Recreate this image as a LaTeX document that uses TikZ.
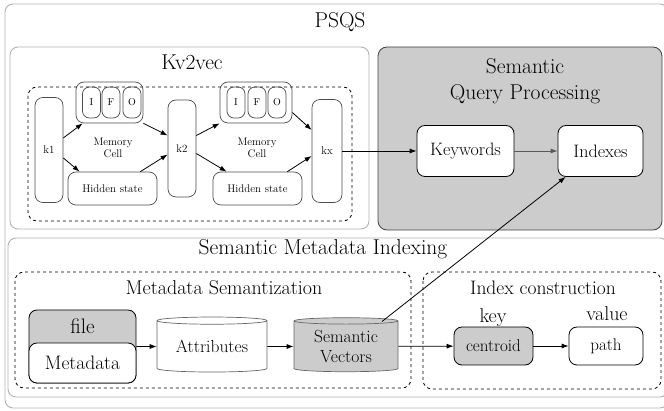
\documentclass[tikz,border=0pt]{standalone}
\usetikzlibrary{positioning,shapes.geometric,arrows.meta}

\tikzset{
	frame/.style={draw=gray!60, line width=0.9pt, rounded corners=8pt},
	dashframe/.style={draw, dashed, line width=0.8pt, rounded corners=9pt},
	cell/.style={draw=black!70, line width=0.7pt, rounded corners=8pt, inner sep=0pt, align=center, font=\fontsize{11}{12.5}\selectfont},
	gate/.style={draw=black!70, line width=0.7pt, rounded corners=7pt, inner sep=0pt, minimum width=18pt, minimum height=31pt, font=\fontsize{10}{11}\selectfont},
	box/.style={draw, line width=0.8pt, rounded corners=8pt, fill=white, inner sep=0pt, font=\fontsize{18}{20}\selectfont},
	db/.style={draw=black!60, line width=0.7pt, cylinder, shape border rotate=90, aspect=0.1, inner sep=0pt, align=center, font=\fontsize{17.5}{20}\selectfont},
	bigtitle/.style={font=\fontsize{21.5}{26}\selectfont, align=center},
	subtitle/.style={font=\fontsize{20}{22}\selectfont},
	arr/.style={line width=0.8pt, -{Latex[length=7pt,width=5pt]}},
}

\begin{document}
\begin{tikzpicture}[x=1pt, y=-1pt]
	\useasboundingbox (0,0) rectangle (664,411);

	% PSQS
	\draw [frame] (5,4) rectangle (668,408);
	\node [bigtitle] (psqs) at (340,22) {PSQS};

	% Kv2vec
	\draw [frame] (10,47) rectangle (369,229);
	\node [bigtitle] (kv2vec) at (192,62) {Kv2vec};
	\draw [dashframe] (28,87) rectangle (352,221);

	\node [cell, minimum width=28pt, minimum height=105pt] (k1) at (49,150) {k1};
	\node [cell, minimum width=67pt, minimum height=41pt] (ifoA) at (109.5,102.5) {};
	\node [gate] (iA) at (91.5,102.5) {I};
	\node [gate] (fA) at (111,102.5) {F};
	\node [gate] (oA) at (132,102.5) {O};
	\node [cell, draw=none] (memA) at (113,148) {Memory\\Cell};
	\node [cell, minimum width=89pt, minimum height=33pt] (hidA) at (112.5,188.5) {Hidden state};

	\node [cell, minimum width=28pt, minimum height=97pt] (k2) at (182,148.5) {k2};
	\node [cell, minimum width=72pt, minimum height=41pt] (ifoB) at (256,102.5) {};
	\node [gate] (iB) at (236,102.5) {I};
	\node [gate] (fB) at (257,102.5) {F};
	\node [gate] (oB) at (277,102.5) {O};
	\node [cell, draw=none] (memB) at (257,148) {Memory\\Cell};
	\node [cell, minimum width=89pt, minimum height=33pt] (hidB) at (257.5,188.5) {Hidden state};

	\node [cell, minimum width=30pt, minimum height=103pt] (kx) at (327,151) {kx};

	\draw [arr] ([yshift=12pt]k1.east) -- ([xshift=7pt]ifoA.south west);
	\draw [arr] ([yshift=-8pt]k1.east) -- ([xshift=12pt]hidA.north west);
	\draw [arr] (ifoA.south east) -- ([yshift=13pt]k2.west);
	\draw [arr] ([xshift=-17pt]hidA.north east) -- ([yshift=-6pt]k2.west);
	\draw [arr] ([yshift=13pt]k2.east) -- (ifoB.south west);
	\draw [arr] ([yshift=-5pt]k2.east) -- ([xshift=14pt]hidB.north west);
	\draw [arr] ([yshift=-10pt]ifoB.east) -- ([yshift=21pt]kx.west);
	\draw [arr] ([xshift=-15pt]hidB.north east) -- ([yshift=-5pt]kx.west);

	% Semantic Query Processing
	\draw [fill=gray!40, draw=black!75, line width=0.8pt, rounded corners=9pt] (378,47) rectangle (662,230);
	\node [bigtitle] (sqp) at (525,81.5) {Semantic\\Query Processing};
	\node [box, minimum width=97pt, minimum height=51pt] (keywords) at (465.5,151) {Keywords};
	\node [box, minimum width=85pt, minimum height=51pt] (indexes) at (600.5,151) {Indexes};

	\draw [arr] (kx.east) -- (keywords.west);
	\draw [arr, draw=black!65] (keywords) -- (indexes);

	% Semantic Metadata Indexing
	\draw [frame] (8,238) rectangle (668,397);
	\node [bigtitle] (smi) at (323,249) {Semantic Metadata Indexing};

	% Metadata Semantization
	\draw [dashframe] (15,272) rectangle (411,388);
	\node [subtitle] (semtitle) at (224,288) {Metadata Semantization};
	\node [box, fill=gray!40, minimum width=107pt, minimum height=73pt] (file) at (82.5,346.5) {};
	\node [font=\fontsize{21}{23}\selectfont] (filetext) at (82.5,326) {file};
	\node [box, font=\fontsize{19.5}{22}\selectfont, minimum width=107pt, minimum height=40pt] (meta) at (82.5,363) {Metadata};
	\node [db, fill=white, minimum width=110pt, minimum height=55pt] (attrs) at (212,346.5) {Attributes};
	\node [db, fill=gray!40, minimum width=104pt, minimum height=54pt] (vectors) at (346,346.5) {Semantic\\Vectors};

	\draw [arr] (file.east) -- (attrs.west);
	\draw [arr] (attrs) -- (vectors);

	% Index construction
	\draw [dashframe] (423,272) rectangle (661,389);
	\node [subtitle, font=\fontsize{19.5}{22}\selectfont] (ictitle) at (543,288) {Index construction};
	\node [box, fill=gray!40, font=\fontsize{17}{19}\selectfont, minimum width=79pt, minimum height=38pt] (centroid) at (493.5,346) {centroid};
	\node [box, font=\fontsize{17}{19}\selectfont, minimum width=74pt, minimum height=38pt] (pathbox) at (606,346) {path};
	\node [subtitle] (key) at (493,318) {key};
	\node [subtitle] (value) at (607,314) {value};

	\draw [arr] (vectors) -- (centroid);
	\draw [arr] (centroid) -- (pathbox);
	\draw [arr] ([xshift=36pt,yshift=25pt]vectors.center) -- ([xshift=8pt]indexes.south west);
\end{tikzpicture}
\end{document}
